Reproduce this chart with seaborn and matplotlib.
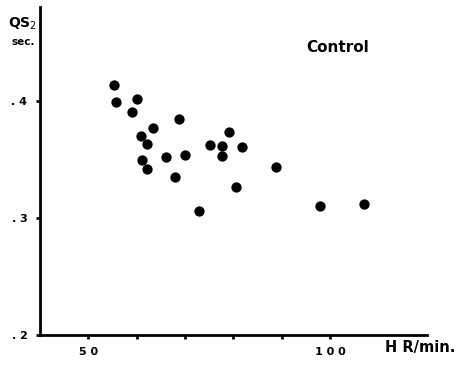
import matplotlib.pyplot as plt
import seaborn as sns
import pandas as pd

# heart rate (beats/min) and QS2 interval (sec), control group
heart_rate = [55.3, 55.7, 60.1, 59.0, 68.7, 63.3, 61.0, 62.1, 79.1, 75.2, 77.6, 81.8,
              61.1, 66.1, 69.9, 77.7, 62.1, 68.0, 88.8, 80.6, 72.8, 97.9, 106.9]
qs2 = [0.413, 0.399, 0.401, 0.390, 0.384, 0.377, 0.370, 0.363, 0.373, 0.362, 0.361, 0.360,
       0.349, 0.352, 0.354, 0.353, 0.342, 0.335, 0.343, 0.326, 0.306, 0.310, 0.312]

x_ticks = [50, 60, 70, 80, 90, 100]
x_labels = ["5 0", "", "", "", "", "1 0 0"]
y_ticks = [0.2, 0.3, 0.4]
y_labels = [". 2", ". 3", ". 4"]

df = pd.DataFrame({"hr": heart_rate, "qs2": qs2})

sns.set_style("ticks")
plt.rcParams['font.family'] = ['DejaVu Sans']
plt.rcParams['text.color'] = 'black'
plt.rcParams['xtick.labelcolor'] = 'black'
plt.rcParams['ytick.labelcolor'] = 'black'

fig = plt.figure(figsize=(4.64, 3.66), dpi=100)
ax = fig.add_axes([0.086, 0.085, 0.834, 0.896])

sns.scatterplot(data=df, x="hr", y="qs2", ax=ax, color="black", s=55,
                edgecolor="black", linewidth=0)

ax.set_xlim(40, 120)
ax.set_ylim(0.2, 0.48)
ax.set_xticks(x_ticks)
ax.set_xticklabels(x_labels, fontsize=8, fontweight="bold", color="black")
ax.set_yticks(y_ticks)
ax.set_yticklabels(y_labels, fontsize=8, fontweight="bold", color="black")
ax.tick_params(axis="both", length=3, width=2, color="black", pad=6)
ax.set_xlabel("")
ax.set_ylabel("")

sns.despine(ax=ax)
for side in ["left", "bottom"]:
    ax.spines[side].set_linewidth(2)
    ax.spines[side].set_color("black")

fig.text(0.018, 0.935, "QS$_2$", fontsize=10, fontweight="bold", ha="left", va="center", color="black")
fig.text(0.025, 0.885, "sec.", fontsize=7.5, fontweight="bold", ha="left", va="center", color="black")
fig.text(0.727, 0.87, "Control", fontsize=11, fontweight="bold", ha="center", va="center", color="black")
fig.text(0.83, 0.05, "H R/min.", fontsize=10.5, fontweight="bold", ha="left", va="center", color="black")

fig.savefig("out.png", dpi=100)
